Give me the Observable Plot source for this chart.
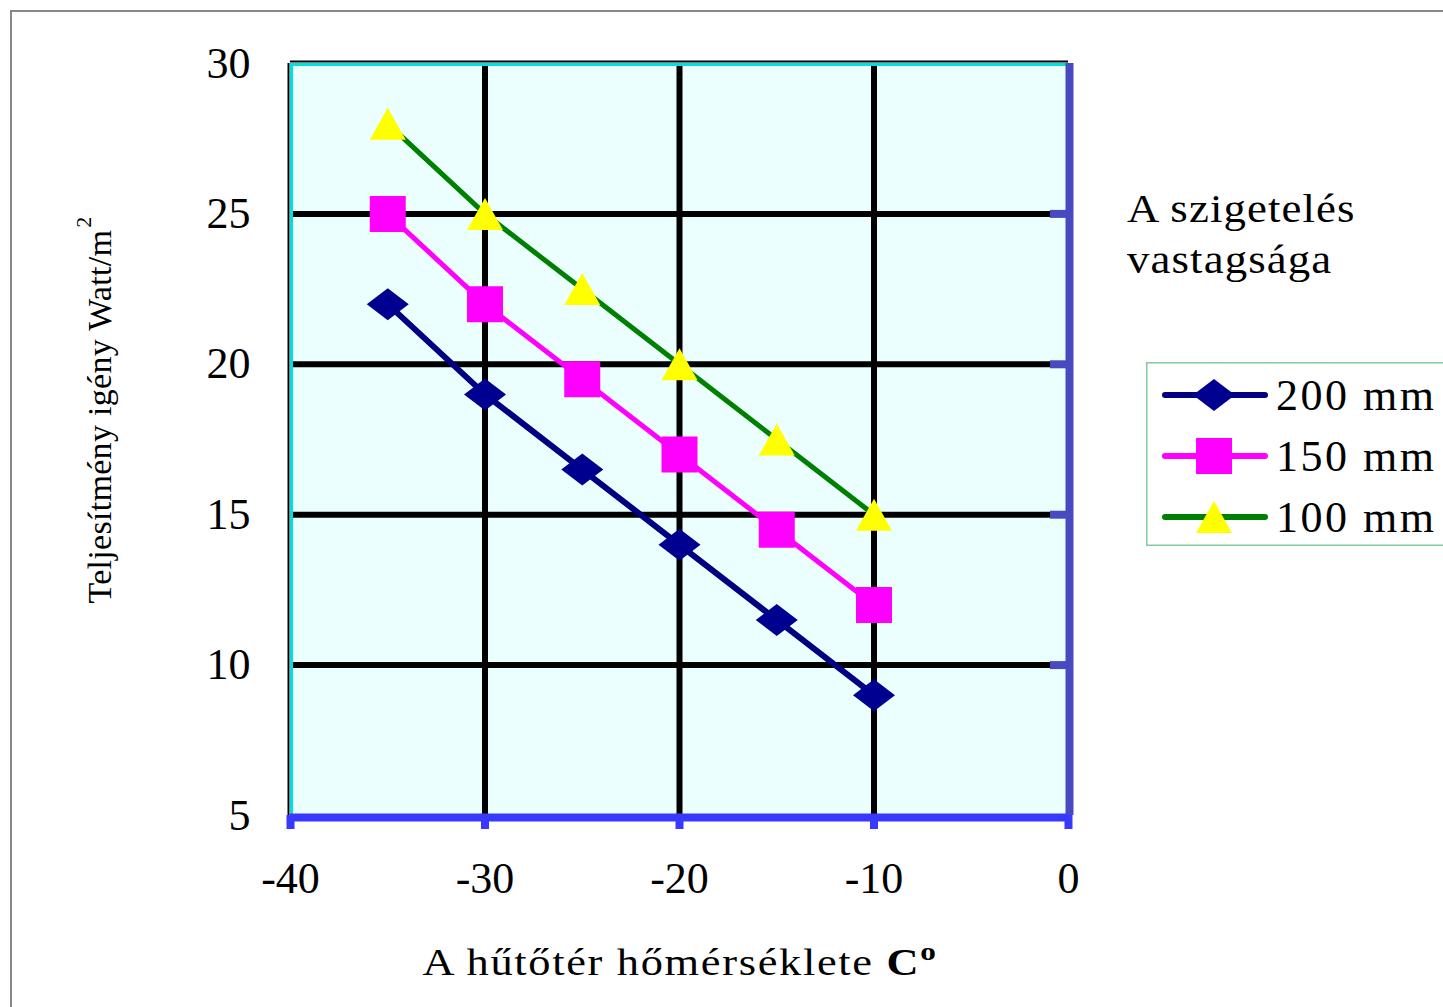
<!DOCTYPE html>
<html>
<head>
<meta charset="utf-8">
<script src="https://cdn.jsdelivr.net/npm/d3@7"></script>
<script src="https://cdn.jsdelivr.net/npm/@observablehq/plot@0.6"></script>
<style>
  html, body { margin: 0; padding: 0; background: #fff; overflow: hidden; }
  #wrap { position: relative; width: 1443px; height: 1007px; font-family: "Liberation Serif", "Times New Roman", serif; color: #000; }
  #outer { position: absolute; left: 10px; top: 10px; width: 1500px; height: 1100px; border: 2px solid #888; box-sizing: border-box; }
  #chart { position: absolute; left: 0; top: 0; }
  .t { position: absolute; white-space: nowrap; }
  #ytitle { left: 95px; top: 410px; font-size: 34px; transform: translate(-50%, -50%) rotate(-90deg); letter-spacing: 0.3px; }
  #ytitle sup { font-size: 22px; vertical-align: 0.9em; margin-left: 2px; }
  #xtitle { left: 680px; top: 960px; font-size: 37px; transform: translate(-50%, -50%) scaleX(1.2); letter-spacing: 1.4px; }
  #xtitle b sup { font-size: 26px; vertical-align: 0.6em; }
  #ltitle { left: 1127px; top: 183px; font-size: 40px; line-height: 51px; letter-spacing: 1px; transform: scaleX(1.12); transform-origin: 0 0; }
  #legend { position: absolute; left: 1146px; top: 362px; }
</style>
</head>
<body>
<div id="wrap">
  <div id="outer"></div>
  <div id="chart"></div>
  <div class="t" id="ytitle">Teljesítmény igény Watt/m<sup>2</sup></div>
  <div class="t" id="xtitle">A hűtőtér hőmérséklete <b>C<sup>o</sup></b></div>
  <div class="t" id="ltitle">A szigetelés<br>vastagsága</div>
  <div id="legend"></div>
</div>
<script>
// ---- data ----
const temps = [-35, -30, -25, -20, -15, -10];
const s200 = [22, 19, 16.5, 14, 11.5, 9];
const s150 = [25, 22, 19.5, 17, 14.5, 12];
const s100 = [28, 25, 22.5, 20, 17.5, 15];
const seriesNames = ["200 mm", "150 mm", "100 mm"];
const xTicks = [-40, -30, -20, -10, 0];
const yTicks = [5, 10, 15, 20, 25, 30];
const gridX = [-30, -20, -10];
const gridY = [10, 15, 20, 25];

// ---- styles ----
const lineColors = ["#000080", "#ff00ff", "#008000"];
const markFills = ["#000090", "#ff00ff", "#ffff00"];
const lineWidths = [6, 5, 5];
const FONT = "'Liberation Serif', 'Times New Roman', serif";

const diamondWide = { draw(ctx) { const w = 21, h = 16; ctx.moveTo(-w, 0); ctx.lineTo(0, -h); ctx.lineTo(w, 0); ctx.lineTo(0, h); ctx.closePath(); } };
const squareBig = { draw(ctx) { const s = 18; ctx.moveTo(-s, -s); ctx.lineTo(s, -s); ctx.lineTo(s, s); ctx.lineTo(-s, s); ctx.closePath(); } };
const triBig = { draw(ctx) { const w = 18, h = 16; ctx.moveTo(0, -h); ctx.lineTo(w, h); ctx.lineTo(-w, h); ctx.closePath(); } };
const symbols = [diamondWide, squareBig, triBig];

const seriesVals = [s200, s150, s100];
const rows = seriesNames.map((name, i) => temps.map((t, j) => ({ t, v: seriesVals[i][j], s: name, i })));

const seriesMarks = [];
rows.forEach((r, i) => {
  seriesMarks.push(Plot.line(r, { x: "t", y: "v", stroke: lineColors[i], strokeWidth: lineWidths[i], strokeLinejoin: "round" }));
});
rows.forEach((r, i) => {
  seriesMarks.push(Plot.dot(r, { x: "t", y: "v", symbol: symbols[i], fill: markFills[i], stroke: null, r: 10 }));
});

const hyphenFmt = d => String(d).replace("\u2212", "-");

const chart = Plot.plot({
  width: 1443,
  height: 1007,
  marginLeft: 290,
  marginRight: 375,
  marginTop: 63,
  marginBottom: 192,
  x: { domain: [-40, 0], label: null },
  y: { domain: [5, 30], label: null },
  style: { fontFamily: FONT, fontSize: "44px", background: "transparent", overflow: "visible", color: "#000" },
  marks: [
    Plot.frame({ fill: "#ebffff", stroke: null }),
    Plot.ruleX(gridX, { stroke: "#000", strokeWidth: 6 }),
    Plot.ruleY(gridY, { stroke: "#000", strokeWidth: 6 }),
    Plot.tickY(gridY, { stroke: "#4a4ac0", strokeWidth: 8, insetLeft: 760 }),
    // plot-area borders
    Plot.ruleX([-40], { stroke: "#000", strokeWidth: 2, dx: -2 }),
    Plot.ruleX([-40], { stroke: "#00e0e0", strokeWidth: 3, dx: 1 }),
    Plot.ruleY([30], { stroke: "#000", strokeWidth: 2, dy: -2 }),
    Plot.ruleY([30], { stroke: "#00e0e0", strokeWidth: 3, dy: 1 }),
    Plot.ruleX([0], { stroke: "#4a4ac0", strokeWidth: 8, dx: 1 }),
    Plot.ruleY([5], { stroke: "#3838ff", strokeWidth: 8, dy: 2 }),
    Plot.axisX(xTicks, { tickSize: 14, stroke: "#3838ff", strokeWidth: 8, tickFormat: () => "", label: null }),
    Plot.axisX(xTicks, { tickSize: 0, tickPadding: 46, label: null, letterSpacing: 3, fontSize: 44, tickFormat: hyphenFmt }),
    Plot.axisY(yTicks, { tickSize: 0, tickPadding: 40, label: null, letterSpacing: 3, fontSize: 44, tickFormat: hyphenFmt }),
    ...seriesMarks
  ]
});
document.getElementById("chart").appendChild(chart);

// ---- legend ----
const lh = 184;
const lg = d3.select("#legend").append("svg").attr("width", 310).attr("height", lh).style("overflow", "visible");
lg.append("rect").attr("x", 0.75).attr("y", 0.75).attr("width", 320).attr("height", lh - 1.5)
  .attr("fill", "#fff").attr("stroke", "#80cca0").attr("stroke-width", 1.5);
seriesNames.forEach((name, i) => {
  const cy = 33 + i * 61;
  lg.append("line").attr("x1", 19).attr("x2", 119).attr("y1", cy).attr("y2", cy)
    .attr("stroke", lineColors[i]).attr("stroke-width", 6).attr("stroke-linecap", "round");
  const p = d3.path(); symbols[i].draw(p);
  lg.append("path").attr("d", p.toString()).attr("transform", `translate(68,${cy})`).attr("fill", markFills[i]);
  lg.append("text").attr("x", 130).attr("y", cy).attr("dy", "0.34em")
    .attr("font-family", FONT).attr("font-size", 44)
    .attr("letter-spacing", 2.5).text(name);
});
</script>
</body>
</html>
